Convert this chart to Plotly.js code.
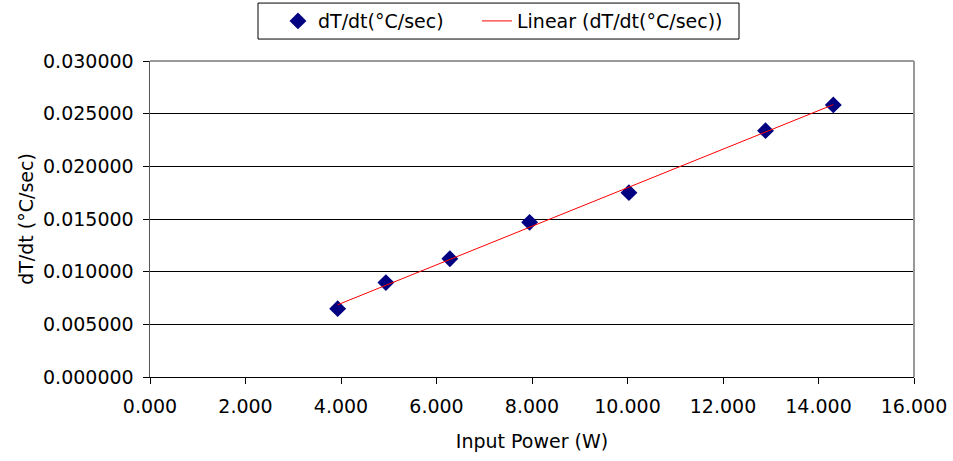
<!DOCTYPE html>
<html><head><meta charset="utf-8">
<script src="https://cdn.plot.ly/plotly-3.0.1.min.js"></script>
<style>html,body{margin:0;padding:0;background:#fff;}#chart{width:953px;height:461px;}</style>
</head><body><div id="chart"></div>
<script>
const power = [3.93, 4.94, 6.28, 7.95, 10.03, 12.89, 14.31];
const rate = [0.00649, 0.00896, 0.01123, 0.01468, 0.01750, 0.02339, 0.02583];
const seriesName = 'dT/dt(°C/sec)';
const trendName = 'Linear (dT/dt(°C/sec))';
const xTitle = 'Input Power (W)';
const yTitle = 'dT/dt (°C/sec)';

// least-squares fit
const n = power.length;
const mx = power.reduce((a,b)=>a+b,0)/n;
const my = rate.reduce((a,b)=>a+b,0)/n;
let sxy=0,sxx=0;
for(let i=0;i<n;i++){sxy+=(power[i]-mx)*(rate[i]-my);sxx+=(power[i]-mx)**2;}
const slope = sxy/sxx, icpt = my - slope*mx;
const xMin = Math.min(...power), xMax = Math.max(...power);
const trendX = [xMin, xMax];
const trendY = trendX.map(x=>icpt+slope*x);

const font = {family:'DejaVu Sans, Verdana, sans-serif', size:19, color:'#000'};
const data = [
 {x:power, y:rate, mode:'markers', type:'scatter', name:seriesName, legend:'legend',
  marker:{symbol:'diamond', size:13, color:'#000080'}},
 {x:trendX, y:trendY, mode:'lines', type:'scatter', name:trendName, legend:'legend2',
  line:{color:'#ff0000', width:1}}
];
const legBase = {orientation:'h', xanchor:'left', y:1.1264, yanchor:'middle',
   borderwidth:0, font:font, bgcolor:'rgba(0,0,0,0)'};
const layout = {
 width:953, height:461,
 margin:{l:150, r:39, t:61, b:83.5, autoexpand:false},
 paper_bgcolor:'#fff', plot_bgcolor:'#fff',
 font:font,
 showlegend:true,
 legend:Object.assign({}, legBase, {x:0.1675}),
 legend2:Object.assign({}, legBase, {x:0.428}),
 xaxis:{range:[0,16], dtick:2, tick0:0, tickformat:'.3f', showgrid:false, zeroline:false,
   showline:true, linecolor:'#000', linewidth:1, ticks:'outside', ticklen:6, tickcolor:'#000',
   ticklabelstandoff:6,
   title:{text:xTitle, font:font, standoff:18}, tickfont:font},
 yaxis:{range:[0,0.03], dtick:0.005, tick0:0, tickformat:'.6f', showgrid:true, gridcolor:'#000', gridwidth:1,
   zeroline:false, showline:true, linecolor:'#555', linewidth:1.5, ticks:'outside', ticklen:6, tickcolor:'#000',
   ticklabelstandoff:5,
   title:{text:yTitle, font:font, standoff:4}, tickfont:font},
 shapes:[
  {type:'line', xref:'paper', yref:'paper', x0:0, x1:1, y0:1, y1:1, line:{color:'#999', width:2}},
  {type:'line', xref:'paper', yref:'paper', x0:1, x1:1, y0:0, y1:1, line:{color:'#999', width:2}},
  {type:'rect', xref:'paper', yref:'paper', x0:(258-150)/764, x1:(739-150)/764, y0:1.0695, y1:1.1833,
   line:{color:'#000', width:1}, fillcolor:'rgba(0,0,0,0)', layer:'below'}
 ]
};
Plotly.newPlot('chart', data, layout, {displayModeBar:false, staticPlot:true});
</script></body></html>
